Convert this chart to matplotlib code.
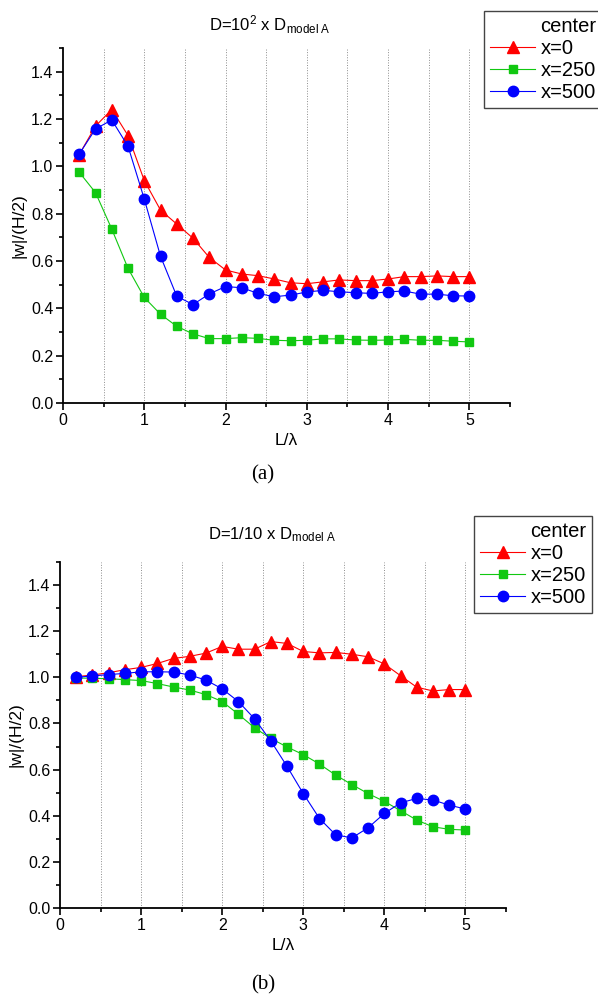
import matplotlib
matplotlib.use("Agg")
import matplotlib.pyplot as plt
from matplotlib.ticker import MultipleLocator
import numpy as np

plt.rcParams['font.family'] = ['Liberation Sans', 'DejaVu Sans']
plt.rcParams['mathtext.fontset'] = 'custom'
plt.rcParams['mathtext.rm'] = 'Liberation Sans'
plt.rcParams['mathtext.it'] = 'Liberation Sans'

# L/lambda values shared by every series
L_lam = [0.2, 0.4, 0.6, 0.8, 1.0, 1.2, 1.4, 1.6, 1.8, 2.0, 2.2, 2.4, 2.6,
         2.8, 3.0, 3.2, 3.4, 3.6, 3.8, 4.0, 4.2, 4.4, 4.6, 4.8, 5.0]

series_labels = ['x=0', 'x=250', 'x=500']

# panel (a): D = 10^2 x D_model A
a_x0 = [1.05, 1.17, 1.24, 1.13, 0.94, 0.815, 0.756, 0.696, 0.615, 0.562,
        0.545, 0.538, 0.524, 0.508, 0.504, 0.512, 0.520, 0.517, 0.517, 0.524,
        0.534, 0.534, 0.537, 0.534, 0.534]
a_x250 = [0.975, 0.889, 0.735, 0.569, 0.446, 0.375, 0.324, 0.292, 0.272, 0.272,
          0.276, 0.273, 0.265, 0.263, 0.265, 0.271, 0.271, 0.266, 0.265, 0.266,
          0.269, 0.265, 0.265, 0.261, 0.258]
a_x500 = [1.052, 1.158, 1.196, 1.085, 0.862, 0.620, 0.451, 0.416, 0.461, 0.492,
          0.487, 0.463, 0.449, 0.456, 0.469, 0.476, 0.470, 0.466, 0.463, 0.470,
          0.473, 0.460, 0.460, 0.453, 0.452]

# panel (b): D = 1/10 x D_model A
b_x0 = [1.003, 1.010, 1.020, 1.033, 1.043, 1.060, 1.082, 1.091, 1.105, 1.134,
        1.122, 1.122, 1.155, 1.147, 1.112, 1.106, 1.108, 1.100, 1.089, 1.058,
        1.007, 0.957, 0.941, 0.947, 0.947]
b_x250 = [0.997, 0.996, 0.994, 0.990, 0.986, 0.973, 0.958, 0.945, 0.925, 0.895,
          0.840, 0.781, 0.735, 0.698, 0.665, 0.624, 0.576, 0.535, 0.496, 0.462,
          0.422, 0.381, 0.352, 0.341, 0.338]
b_x500 = [1.000, 1.006, 1.012, 1.017, 1.024, 1.024, 1.023, 1.010, 0.988, 0.950,
          0.895, 0.820, 0.724, 0.614, 0.496, 0.388, 0.317, 0.304, 0.348, 0.410,
          0.456, 0.475, 0.468, 0.446, 0.429]

colors = ['#ff0000', '#11c811', '#0000ff']
markers = ['^', 's', 'o']
msizes = [8.5, 6.2, 7.5]

fig = plt.figure(figsize=(5.98, 10.02), dpi=100)


#------------------------------------------------------------------------------
def panel(rect, ys, title, title_xy, legend_anchor, caption, caption_xy):
    ax = fig.add_axes(rect)
    lines = []
    for y, c, m, ms, lab in zip(ys, colors, markers, msizes, series_labels):
        ln, = ax.plot(L_lam, y, color=c, marker=m, markersize=ms, lw=0.8,
                      markeredgecolor=c, label=lab)
        lines.append(ln)

    ax.set_xlim(0, 5.5)
    ax.set_ylim(0, 1.5)
    ax.xaxis.set_major_locator(MultipleLocator(1))
    ax.xaxis.set_minor_locator(MultipleLocator(0.5))
    ax.yaxis.set_major_locator(MultipleLocator(0.2))
    ax.yaxis.set_minor_locator(MultipleLocator(0.1))
    ax.set_xticks([0, 1, 2, 3, 4, 5])
    ax.set_xticks(np.arange(0.5, 6.0, 1.0), minor=True)
    ax.yaxis.set_major_formatter(plt.FormatStrFormatter('%.1f'))

    # vertical dotted grid at every 0.5
    for gx in np.arange(0.5, 5.01, 0.5):
        ax.axvline(gx, color='#8c8c8c', lw=0.7, ls=':', zorder=0)

    for s in ['top', 'right']:
        ax.spines[s].set_visible(False)
    for s in ['left', 'bottom']:
        ax.spines[s].set_linewidth(1.3)
    ax.tick_params(which='major', direction='out', length=5, width=1.2,
                   labelsize=11.5, pad=2)
    ax.tick_params(which='minor', direction='out', length=3, width=1.2)

    ax.set_xlabel('L/λ', fontsize=12.5, labelpad=4)
    ax.set_ylabel('|w|/(H/2)', fontsize=12.5, labelpad=3)

    fig.text(title_xy[0], title_xy[1], title, ha='center', va='center',
             fontsize=12)
    leg = fig.legend(handles=lines, title='center', loc='upper right',
                     bbox_to_anchor=legend_anchor,
                     bbox_transform=fig.transFigure, fontsize=14.5,
                     title_fontsize=14.5, fancybox=False, framealpha=1,
                     edgecolor='#444444', handlelength=2.2,
                     handletextpad=0.3, borderpad=0.3, labelspacing=0.15,
                     alignment='right', borderaxespad=0)
    leg.get_frame().set_linewidth(1.0)
    fig.text(caption_xy[0], caption_xy[1], caption, ha='center', va='center',
             fontsize=15, family='Liberation Serif')
    return ax
#------------------------------------------------------------------------------


panel([63 / 598, 1 - 403 / 1002, 447 / 598, 355 / 1002],
      [a_x0, a_x250, a_x500],
      r'D=10$^2$ x D$_{\mathrm{model\ A}}$', (0.452, 0.975),
      (602 / 598, 1 - 11 / 1002), '(a)', (0.44, 1 - 475 / 1002))

panel([60 / 598, 1 - 908 / 1002, 446 / 598, 346 / 1002],
      [b_x0, b_x250, b_x500],
      r'D=1/10 x D$_{\mathrm{model\ A}}$', (0.456, 1 - 535 / 1002),
      (592 / 598, 1 - 516 / 1002), '(b)', (0.44, 1 - 985 / 1002))

fig.savefig('out.png', dpi=100, facecolor='white')
